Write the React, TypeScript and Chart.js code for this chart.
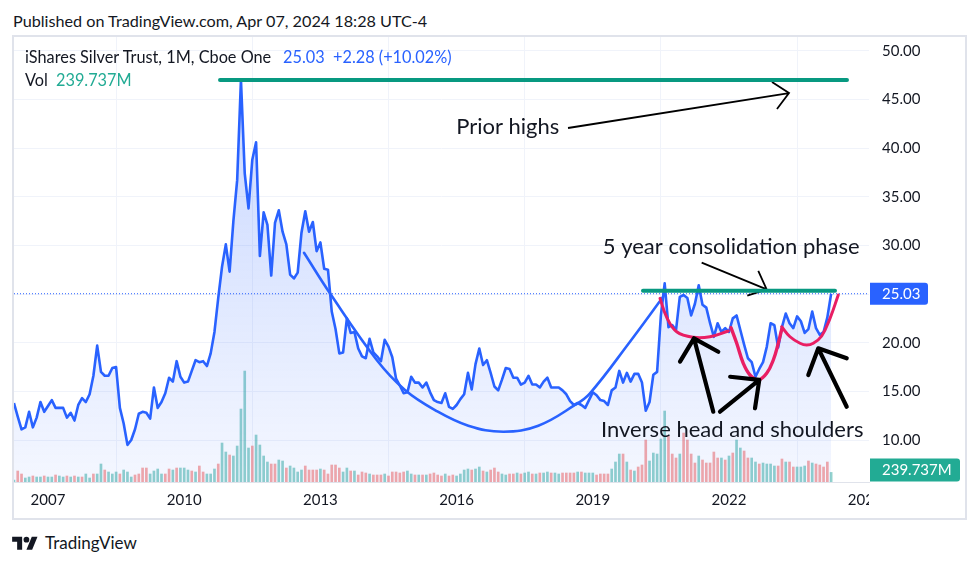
import React, { useEffect, useRef } from "react";
import { Chart, registerables } from "chart.js";

Chart.register(...registerables);

// ---------- data (monthly closes of SLV, Apr 2006 .. Apr 2024) ----------
const FIRST_YEAR = 2006;
const FIRST_MONTH = 3; // April (0-based)

const close2006 = [13.8, 12.4, 11.1, 11.3, 12.9, 11.3, 12.3, 13.9, 12.9];
const close2007 = [13.5, 14.1, 13.3, 13.3, 13.3, 12.3, 12.8, 12.0, 13.6, 14.3, 13.9, 14.7];
const close2008 = [16.6, 19.7, 17.0, 16.6, 16.6, 17.4, 17.5, 13.3, 11.7, 9.5, 10.0, 11.1];
const close2009 = [12.7, 12.9, 12.8, 12.2, 15.4, 13.3, 13.9, 14.8, 16.4, 16.0, 18.1, 16.5];
const close2010 = [15.9, 16.0, 17.1, 18.2, 18.0, 18.1, 17.6, 18.9, 21.1, 24.6, 27.8, 30.1];
const close2011 = [27.3, 32.5, 36.7, 47.0, 37.4, 33.8, 38.8, 40.6, 28.9, 33.4, 32.1, 26.9];
const close2012 = [32.3, 33.6, 31.4, 30.1, 27.0, 26.6, 27.2, 31.3, 33.5, 31.4, 32.4, 29.4];
const close2013 = [30.3, 27.6, 27.5, 23.2, 21.4, 18.9, 19.0, 22.5, 21.0, 21.1, 19.4, 18.6];
const close2014 = [18.4, 20.4, 19.0, 18.6, 18.1, 20.3, 19.6, 18.5, 16.3, 15.6, 14.8, 14.9];
const close2015 = [16.5, 15.9, 15.9, 15.4, 15.9, 14.9, 14.1, 13.9, 13.8, 14.8, 13.4, 13.2];
const close2016 = [13.6, 14.2, 14.7, 16.9, 15.2, 17.8, 19.4, 17.7, 18.2, 16.9, 15.5, 15.1];
const close2017 = [16.2, 17.4, 17.3, 16.4, 16.4, 15.7, 15.9, 16.6, 15.7, 15.7, 15.4, 16.0];
const close2018 = [16.4, 15.4, 15.4, 15.4, 15.1, 14.7, 14.0, 13.6, 13.8, 13.6, 13.3, 14.1];
const close2019 = [14.9, 14.6, 14.1, 14.0, 13.6, 15.1, 15.4, 17.1, 15.9, 16.9, 16.0, 16.8];
const close2020 = [16.8, 15.9, 13.0, 13.9, 16.7, 17.0, 22.8, 26.1, 21.6, 21.8, 21.3, 24.7];
const close2021 = [24.9, 24.6, 22.8, 24.0, 25.9, 23.9, 23.6, 22.0, 20.6, 22.0, 21.1, 21.5];
const close2022 = [21.1, 22.5, 22.8, 21.3, 19.8, 18.4, 18.0, 16.5, 17.3, 18.0, 19.6, 22.0];
const close2023 = [21.8, 19.5, 21.6, 23.0, 22.0, 21.5, 22.7, 22.2, 21.0, 21.4, 23.2, 21.5];
const close2024 = [20.8, 21.1, 22.6, 25.03];

const closes = [
  ...close2006, ...close2007, ...close2008, ...close2009, ...close2010, ...close2011,
  ...close2012, ...close2013, ...close2014, ...close2015, ...close2016, ...close2017,
  ...close2018, ...close2019, ...close2020, ...close2021, ...close2022, ...close2023,
  ...close2024,
];

// monthly volume, millions of shares
const volume2006to2012 = [
  50, 275, 200, 100, 125, 150, 125, 125, 150, 125, 125, 175, 150, 125, 150, 125, 150, 125, 125, 200,
  100, 200, 200, 450, 300, 250, 200, 250, 200, 300, 250, 125, 175, 200, 350, 350, 200, 275, 325, 200,
  200, 325, 300, 350, 350, 350, 300, 275, 250, 400, 250, 200, 200, 325, 450, 975, 750, 675, 650, 900,
  1825, 2775, 850, 900, 1175, 925, 650, 500, 450, 450, 550, 525, 350, 400, 350, 250,
];
const volume2012to2018 = [
  300, 400, 300, 300, 300, 325, 300, 200, 425, 425, 350, 250, 350, 275, 275, 175, 250, 225, 200, 175,
  175, 175, 200, 150, 250, 250, 225, 250, 275, 200, 175, 175, 175, 175, 200, 225, 175, 150, 200, 150,
  175, 150, 200, 300, 325, 300, 325, 375, 275, 250, 300, 350, 250, 200, 175, 200, 200, 225, 200, 225,
  250, 200, 200, 225, 225, 250, 225, 225, 200, 225, 225, 225, 225, 250, 250,
];
const volume2018to2024 = [
  225, 225, 225, 175, 200, 200, 200, 325, 500, 700, 700, 500, 300, 275, 375, 425, 1050, 525, 725, 700,
  1075, 1775, 1150, 700, 600, 700, 1225, 1050, 700, 475, 650, 550, 475, 475, 750, 600, 600, 550, 650, 725,
  1050, 850, 775, 600, 600, 500, 450, 475, 450, 450, 400, 400, 575, 500, 500, 375, 375, 375, 400, 525,
  475, 450, 425, 375, 500, 239.737,
];
const volumes = [...volume2006to2012, ...volume2012to2018, ...volume2018to2024];

// bar direction (u = up / teal, d = down / red); middle years follow the closes
const volumeDirEarly = "uddu" + "udu" + "udu" + "udu" + "udu" + "dudu" + "uduu" + "duuu" + "duuu" + "dddduuuudd" + "uduuudud" + "duuuduudu" + "uuuuduuuudduuduuuuddddu";
const volumeDirLate = "uuuddddu" + "uudududdd" + "uuuuudddud" + "ddduddddd" + "ududuudd" + "uudu" + "uuudd" + "udduuudu" + "dddduu";

// ---------- axis ticks and ranges ----------
const yearTicks = [2007, 2010, 2013, 2016, 2019, 2022, 2025];
const priceTicks = [10, 15, 20, 25, 30, 35, 40, 45, 50];
const X_MIN = 2006.251;
const X_MAX = 2025.084;
const Y_MIN = 5.685;
const Y_MAX = 51.41;
const VOL_AXIS_MAX = 11130;

const LAST_PRICE = 25.03;
const LAST_VOLUME_LABEL = "239.737M";

// ---------- drawings (year, price) ----------
const cupCurve: [number, number][] = [
  [2012.639, 29.24], [2013.211, 25.07], [2014.24, 18.22], [2014.863, 15.14], [2015.524, 13.08],
  [2016.258, 11.47], [2017.029, 10.85], [2017.8, 11.47], [2018.608, 13.6], [2018.938, 14.8],
  [2019.819, 20.1], [2020.546, 24.69],
];
const leftShoulder: [number, number][] = [
  [2020.48, 24.56], [2020.628, 22.61], [2020.848, 21.13], [2021.214, 20.55], [2021.581, 20.61], [2021.985, 21.2],
];
const headCurve: [number, number][] = [
  [2022.044, 21.54], [2022.17, 19.94], [2022.315, 17.88], [2022.463, 16.68], [2022.645, 16.17],
  [2022.83, 16.85], [2022.976, 18.22], [2023.086, 19.94], [2023.161, 21.37],
];
const rightShoulder: [number, number][] = [
  [2023.161, 21.64], [2023.344, 20.61], [2023.564, 19.94], [2023.711, 19.76], [2023.857, 19.94],
  [2024.042, 20.69], [2024.225, 22.5], [2024.407, 24.9],
];
const priorHighLine: [number, number][] = [[2010.789, 47.0], [2024.599, 47.0]];
const consolidationLine: [number, number][] = [[2020.106, 25.34], [2024.335, 25.34]];

type Arrow = { tail: [number, number]; tip: [number, number]; armA: [number, number]; armB: [number, number] };
const thinArrows: Arrow[] = [
  { tail: [2018.454, 42.06], tip: [2023.322, 45.65], armA: [2022.947, 46.78], armB: [2023.057, 44.01] },
  { tail: [2021.398, 28.22], tip: [2022.83, 25.48], armA: [2022.645, 27.39], armB: [2022.403, 24.83] },
];
const thickArrows: Arrow[] = [
  { tail: [2021.654, 12.91], tip: [2021.229, 20.45], armA: [2020.921, 18.05], armB: [2021.764, 19.07] },
  { tail: [2021.802, 12.91], tip: [2022.667, 16.17], armA: [2022.026, 16.5], armB: [2022.573, 13.26] },
  { tail: [2024.593, 13.42], tip: [2023.967, 19.42], armA: [2023.747, 16.68], armB: [2024.593, 18.39] },
];
const notes = [
  { text: "Prior highs", x: 2015.99, y: 42.16 },
  { text: "5 year consolidation phase", x: 2019.22, y: 29.83 },
  { text: "Inverse head and shoulders", x: 2019.18, y: 11.03 },
];

// ---------- styling ----------
const FONT = "Lato, 'Noto Sans', sans-serif";
const TEXT = "#131722";
const BLUE = "#2962ff";
const TEAL = "#22ab94";
const GREEN_LINE = "#089981";
const PINK = "#e91e63";

const toPts = (arr: [number, number][]) => arr.map(([x, y]) => ({ x, y }));
const arrowPts = (a: Arrow) => [
  { x: a.tail[0], y: a.tail[1] }, { x: a.tip[0], y: a.tip[1] }, { x: a.tip[0], y: null },
  { x: a.armA[0], y: a.armA[1] }, { x: a.tip[0], y: a.tip[1] }, { x: a.armB[0], y: a.armB[1] },
];

function monthX(i: number) {
  return FIRST_YEAR + (FIRST_MONTH + i) / 12;
}

export default function App() {
  const canvasRef = useRef<HTMLCanvasElement | null>(null);

  useEffect(() => {
    const canvas = canvasRef.current;
    if (!canvas) return;

    const pricePts = closes.map((c, i) => ({ x: monthX(i), y: c }));
    const volPts = volumes.map((v, i) => ({ x: monthX(i), y: v }));
    const nEarly = volumeDirEarly.length;
    const nMid = volume2006to2012.length + volume2012to2018.length;
    const volColors = volumes.map((_, i) => {
      let up: boolean;
      if (i < nEarly) up = volumeDirEarly[i] === "u";
      else if (i >= nMid) up = volumeDirLate[i - nMid] === "u";
      else up = closes[i] >= closes[i - 1];
      return up ? "rgba(38,166,154,0.5)" : "rgba(239,83,80,0.5)";
    });

    const lineDs = (data: any[], color: string, width: number, extra: any = {}) => ({
      type: "line",
      data,
      borderColor: color,
      borderWidth: width,
      pointRadius: 0,
      fill: false,
      spanGaps: false,
      borderCapStyle: "round",
      borderJoinStyle: "round",
      yAxisID: "y",
      order: 1,
      ...extra,
    });

    const overlay = {
      id: "overlay",
      afterDatasetsDraw(chart: any) {
        const { ctx, scales } = chart;
        ctx.save();
        ctx.fillStyle = TEXT;
        ctx.font = `22px ${FONT}`;
        ctx.textBaseline = "middle";
        ctx.textAlign = "left";
        for (const n of notes) {
          ctx.fillText(n.text, scales.x.getPixelForValue(n.x), scales.y.getPixelForValue(n.y));
        }
        ctx.restore();
      },
      afterDraw(chart: any) {
        const { ctx, chartArea: a, scales } = chart;
        ctx.save();
        // clip time labels under the price scale
        ctx.fillStyle = "#ffffff";
        ctx.fillRect(a.right, a.bottom + 1, chart.width - a.right, chart.height - a.bottom);
        // last price label
        const py = scales.y.getPixelForValue(LAST_PRICE);
        ctx.fillStyle = BLUE;
        ctx.beginPath();
        (ctx as any).roundRect(a.right + 1, py - 11, 58, 22, [0, 3, 3, 0]);
        ctx.fill();
        ctx.fillStyle = "#ffffff";
        ctx.font = `15px ${FONT}`;
        ctx.textBaseline = "middle";
        ctx.textAlign = "left";
        ctx.fillText(LAST_PRICE.toFixed(2), a.right + 13, py + 0.5);
        // last volume label
        const vy = Math.min(scales.yv.getPixelForValue(volumes[volumes.length - 1]), a.bottom - 12);
        ctx.fillStyle = TEAL;
        ctx.beginPath();
        (ctx as any).roundRect(a.right + 1, vy - 11.5, 90, 23, [0, 3, 3, 0]);
        ctx.fill();
        ctx.fillStyle = "#ffffff";
        ctx.fillText(LAST_VOLUME_LABEL, a.right + 13, vy + 0.5);
        ctx.restore();
      },
    };

    const noPad = (s: any) => {
      s.paddingTop = 0;
      s.paddingBottom = 0;
      s.paddingLeft = 0;
      s.paddingRight = 0;
    };

    const chart = new Chart(canvas, {
      type: "line",
      data: {
        datasets: [
          // drawings
          lineDs(toPts(priorHighLine), GREEN_LINE, 4),
          lineDs(toPts(consolidationLine), GREEN_LINE, 4),
          ...thinArrows.map((a) => lineDs(arrowPts(a), "#000000", 1.8, { borderCapStyle: "butt", borderJoinStyle: "miter" })),
          ...thickArrows.map((a) => lineDs(arrowPts(a), "#000000", 4.2)),
          lineDs(toPts(leftShoulder), PINK, 3, { tension: 0.4 }),
          lineDs(toPts(headCurve), PINK, 3.4, { tension: 0.4 }),
          lineDs(toPts(rightShoulder), PINK, 3, { tension: 0.4 }),
          lineDs(toPts(cupCurve), BLUE, 2.6, { tension: 0.4, order: 2 }),
          // last-price dotted line
          lineDs([{ x: X_MIN, y: LAST_PRICE }, { x: X_MAX, y: LAST_PRICE }], BLUE, 1, {
            borderDash: [1, 2], borderCapStyle: "butt", order: 6,
          }),
          // price area
          {
            type: "line",
            data: pricePts,
            borderColor: BLUE,
            borderWidth: 2.6,
            pointRadius: 0,
            tension: 0,
            borderJoinStyle: "round",
            fill: "start",
            backgroundColor: (c: any) => {
              const ch = c.chart;
              const area = ch.chartArea;
              if (!area) return "rgba(41,98,255,0.12)";
              const g = ch.ctx.createLinearGradient(0, area.top, 0, area.bottom);
              g.addColorStop(0, "rgba(41,98,255,0.28)");
              g.addColorStop(1, "rgba(41,98,255,0.05)");
              return g;
            },
            yAxisID: "y",
            order: 5,
          },
          // volume
          {
            type: "bar",
            data: volPts,
            backgroundColor: volColors,
            borderWidth: 0,
            barThickness: 2,
            yAxisID: "yv",
            order: 10,
          },
        ] as any,
      },
      options: {
        animation: false,
        responsive: true,
        maintainAspectRatio: false,
        events: [],
        layout: { padding: 0 },
        plugins: { legend: { display: false }, tooltip: { enabled: false } },
        scales: {
          x: {
            type: "linear",
            min: X_MIN,
            max: X_MAX,
            offset: false,
            afterBuildTicks: (s: any) => {
              s.ticks = yearTicks.map((v) => ({ value: v }));
            },
            afterFit: (s: any) => {
              s.height = 36;
              noPad(s);
            },
            ticks: {
              autoSkip: false,
              maxRotation: 0,
              padding: 9,
              color: TEXT,
              font: { family: FONT, size: 15 },
              callback: (v: any) => String(v),
            },
            grid: { color: "#f0f3fa", lineWidth: 1, drawTicks: false },
            border: { display: true, color: "#e0e3eb", width: 1 },
          },
          y: {
            type: "linear",
            position: "right",
            min: Y_MIN,
            max: Y_MAX,
            afterBuildTicks: (s: any) => {
              s.ticks = priceTicks.map((v) => ({ value: v }));
            },
            afterFit: (s: any) => {
              s.width = 96;
              noPad(s);
            },
            ticks: {
              padding: 13,
              color: TEXT,
              font: { family: FONT, size: 15 },
              callback: (v: any) => Number(v).toFixed(2),
            },
            grid: { color: "#f0f3fa", lineWidth: 1, drawTicks: false },
            border: { display: false },
          },
          yv: {
            type: "linear",
            display: false,
            min: 0,
            max: VOL_AXIS_MAX,
          },
        },
      } as any,
      plugins: [overlay],
    });

    return () => chart.destroy();
  }, []);

  const abs = (left: number, top: number, extra: any = {}): React.CSSProperties => ({
    position: "absolute",
    left,
    top,
    whiteSpace: "nowrap",
    ...extra,
  });

  return (
    <div style={{ position: "absolute", left: 0, top: 0, width: 977, height: 567, background: "#ffffff", overflow: "hidden", fontFamily: FONT, color: TEXT }}>
      <div style={abs(13, 10, { fontSize: 16.2, lineHeight: "22px" })}>Published on TradingView.com, Apr 07, 2024 18:28 UTC-4</div>

      <div style={abs(12, 35, { width: 955, height: 485, border: "2px solid #e0e3eb", boxSizing: "border-box" })} />

      <div style={abs(14, 37, { width: 951, height: 481 })}>
        <canvas ref={canvasRef} />
      </div>

      <div style={abs(25, 47, { fontSize: 16.3, lineHeight: "20px" })}>iShares Silver Trust, 1M, Cboe One</div>
      <div style={abs(283, 47, { fontSize: 16.3, lineHeight: "20px", color: BLUE })}>25.03</div>
      <div style={abs(333, 47, { fontSize: 16.3, lineHeight: "20px", color: BLUE })}>+2.28 (+10.02%)</div>
      <div style={abs(25, 70, { fontSize: 16.3, lineHeight: "20px" })}>Vol</div>
      <div style={abs(56, 70, { fontSize: 16.3, lineHeight: "20px", color: TEAL })}>239.737M</div>

      <svg style={abs(12, 534)} width="26" height="20" viewBox="0 0 36 28">
        <path d="M14 22H7V11H0V4h14v18zM28 22h-8l7.5-18h8L28 22z" fill={TEXT} />
        <circle cx="20" cy="8" r="4" fill={TEXT} />
      </svg>
      <div style={abs(45, 532, { fontSize: 17, lineHeight: "22px" })}>TradingView</div>
    </div>
  );
}
